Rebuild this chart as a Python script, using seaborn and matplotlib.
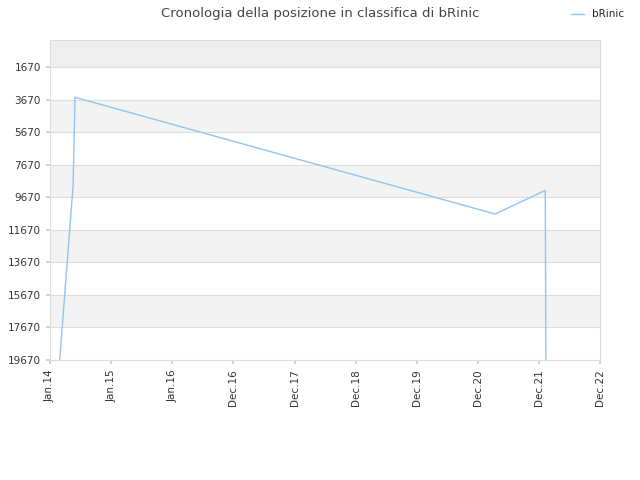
import matplotlib
matplotlib.use("Agg")
import matplotlib.pyplot as plt
import seaborn as sns
import pandas as pd

# data (x in fractional years, y = ranking position)
years = [2014.16, 2014.38, 2014.41, 2021.28, 2022.10, 2022.11]
positions = [19670, 8900, 3530, 10700, 9250, 19670]
tick_pos = [2014.0, 2015.0, 2016.0, 2017.0, 2018.0, 2019.0, 2020.0, 2021.0, 2022.0, 2023.0]
tick_labels = ["Jan.14", "Jan.15", "Jan.16", "Dec.16", "Dec.17", "Dec.18", "Dec.19", "Dec.20", "Dec.21", "Dec.22"]
y_ticks = [1670, 3670, 5670, 7670, 9670, 11670, 13670, 15670, 17670, 19670]

df = pd.DataFrame({"x": years, "y": positions})

sns.set_theme(style="white")
plt.rcParams["font.family"] = "DejaVu Sans"
fig, ax = plt.subplots(figsize=(6.4, 4.8), dpi=100)
fig.subplots_adjust(left=0.078, right=0.938, top=0.917, bottom=0.25)

# alternating bands
edges = [0] + y_ticks
for i in range(len(edges) - 1):
    if i == 0:
        c = "#eeeeee"
    elif i % 2 == 0:
        c = "#f3f3f3"
    else:
        c = "#ffffff"
    ax.axhspan(edges[i], edges[i + 1], color=c, zorder=0, lw=0)
for t in y_ticks:
    ax.axhline(t, color="#dddddd", lw=0.8, zorder=1)

sns.lineplot(data=df, x="x", y="y", ax=ax, color="#90c4f5", lw=1.0, label="bRinic", sort=False, zorder=3)

ax.set_xlim(2014.0, 2023.0)
ax.set_ylim(19670, 0)
ax.set_yticks(y_ticks)
ax.set_yticklabels([str(t) for t in y_ticks], fontsize=7.5, color="#333333")
ax.set_xticks(tick_pos)
ax.set_xticklabels(tick_labels, rotation=90, fontsize=7.5, color="#333333")
ax.tick_params(axis="both", length=3, color="#cccccc", bottom=True, left=True)
ax.set_xlabel("")
ax.set_ylabel("")
for s in ax.spines.values():
    s.set_color("#dddddd")
    s.set_linewidth(0.8)

fig.suptitle("Cronologia della posizione in classifica di bRinic", fontsize=9.5, color="#444444", y=0.985)
ax.legend(loc="upper right", bbox_to_anchor=(1.06, 1.125), frameon=False, fontsize=7.5, handlelength=1.2)

fig.savefig("out.png", dpi=100)
